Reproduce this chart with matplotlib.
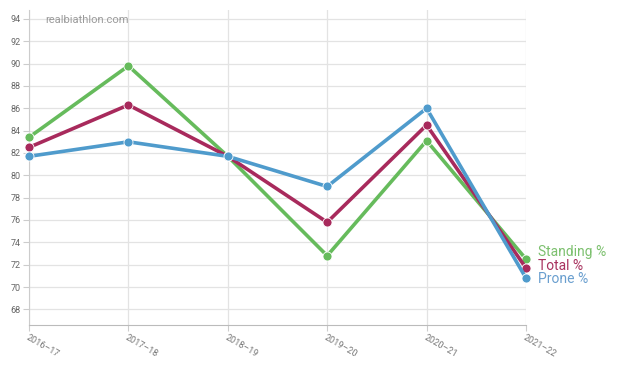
import matplotlib
matplotlib.use("Agg")
import matplotlib.pyplot as plt

seasons = ["2016–17", "2017–18", "2018–19", "2019–20", "2020–21", "2021–22"]
standing = [83.4, 89.8, 81.7, 72.8, 83.1, 72.5]
total = [82.5, 86.3, 81.7, 75.8, 84.5, 71.7]
prone = [81.7, 83.0, 81.7, 79.0, 86.0, 70.8]
yticks = [68, 70, 72, 74, 76, 78, 80, 82, 84, 86, 88, 90, 92, 94]

series = [
    ("Standing %", standing, "#66bb5c"),
    ("Total %", total, "#a82a5c"),
    ("Prone %", prone, "#4f9bcc"),
]
label_colors = ["#7cc06e", "#a8335f", "#6a9fcf"]

plt.rcParams['font.family'] = ['Roboto', 'DejaVu Sans']
fig = plt.figure(figsize=(6.17, 3.68), dpi=100)
ax = fig.add_axes([29/617, 1-325/368, (526-29)/617, (325-10)/368])

x = list(range(len(seasons)))
for name, vals, col in series:
    ax.plot(x, vals, color=col, lw=2.6, marker="o", ms=6.5,
            markeredgecolor="white", markeredgewidth=0.6, zorder=3,
            solid_joinstyle="round", clip_on=False)

ax.set_xlim(0, 5)
ax.set_ylim(66.6, 94.8)
ax.set_yticks(yticks)
ax.set_yticklabels([str(v) for v in yticks], fontsize=6.5, color="#666666")
ax.set_xticks(x)
ax.set_xticklabels(seasons, fontsize=6.5, color="#777777", rotation=-30,
                   ha="left", rotation_mode="anchor")
ax.grid(True, color="#e3e3e3", lw=0.9)
ax.set_axisbelow(True)
for s in ["top", "right"]:
    ax.spines[s].set_visible(False)
ax.spines["left"].set_color("#cccccc")
ax.spines["bottom"].set_color("#bbbbbb")
ax.tick_params(axis="both", length=4, color="#cccccc", pad=2)

# end labels
label_y_px = [252, 266, 279]
for (name, vals, col), lc, ypx in zip(series, label_colors, label_y_px):
    fig.text(538/617, 1-ypx/368, name, color=lc, fontsize=10, va="center", ha="left")

fig.text(45/617, 1-20/368, "realbiathlon.com", color="#9a9a9a", fontsize=8, va="center", ha="left")

fig.savefig("out.png", dpi=100)
